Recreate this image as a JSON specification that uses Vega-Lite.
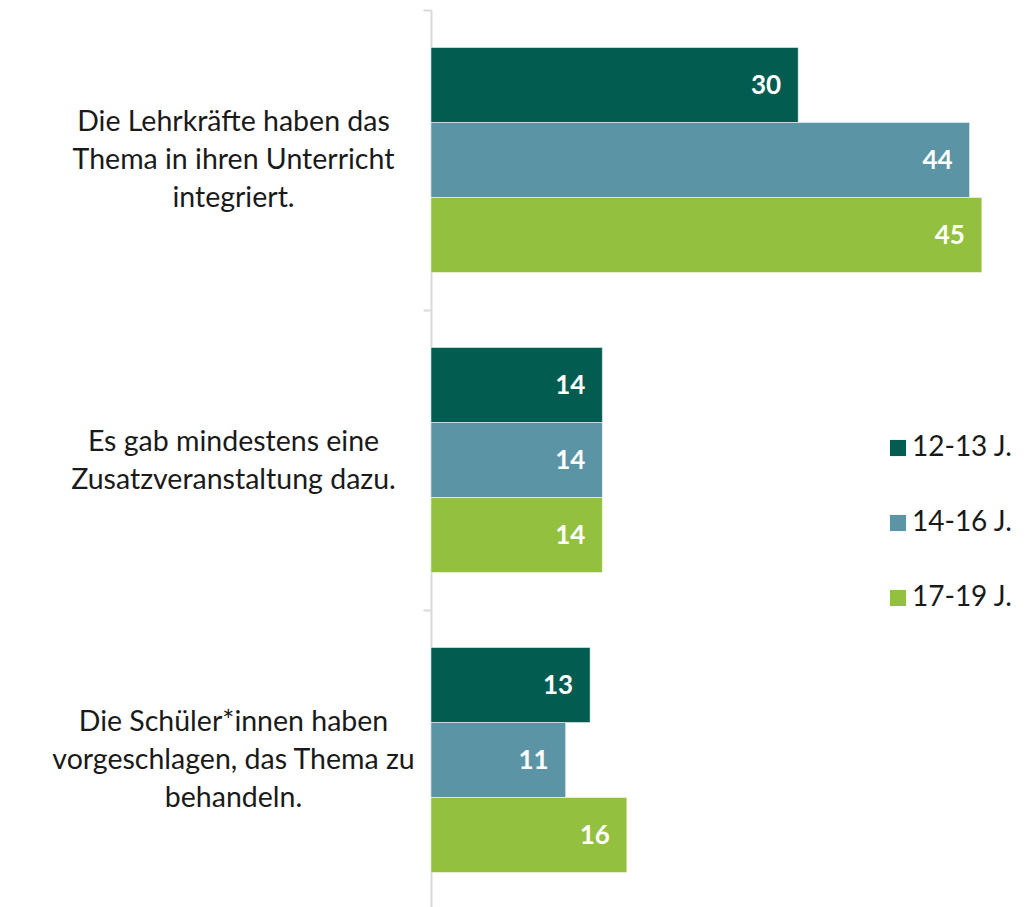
{
  "$schema": "https://vega.github.io/schema/vega-lite/v6.json",
  "width": 612,
  "height": 900,
  "autosize": {"type": "none"},
  "padding": {"left": 431, "top": 10, "right": 0, "bottom": 0},
  "background": "white",
  "config": {"view": {"stroke": null}, "font": "Lato"},
  "data": {
    "values": [
      {"item": "Die Lehrkräfte haben das|Thema in ihren Unterricht|integriert.", "group": "12-13 J.", "value": 30},
      {"item": "Die Lehrkräfte haben das|Thema in ihren Unterricht|integriert.", "group": "14-16 J.", "value": 44},
      {"item": "Die Lehrkräfte haben das|Thema in ihren Unterricht|integriert.", "group": "17-19 J.", "value": 45},
      {"item": "Es gab mindestens eine|Zusatzveranstaltung dazu.", "group": "12-13 J.", "value": 14},
      {"item": "Es gab mindestens eine|Zusatzveranstaltung dazu.", "group": "14-16 J.", "value": 14},
      {"item": "Es gab mindestens eine|Zusatzveranstaltung dazu.", "group": "17-19 J.", "value": 14},
      {"item": "Die Schüler*innen haben|vorgeschlagen, das Thema zu|behandeln.", "group": "12-13 J.", "value": 13},
      {"item": "Die Schüler*innen haben|vorgeschlagen, das Thema zu|behandeln.", "group": "14-16 J.", "value": 11},
      {"item": "Die Schüler*innen haben|vorgeschlagen, das Thema zu|behandeln.", "group": "17-19 J.", "value": 16}
    ]
  },
  "encoding": {
    "y": {
      "field": "item",
      "type": "nominal",
      "sort": null,
      "scale": {"paddingInner": 0.25, "paddingOuter": 0.125},
      "axis": {
        "title": null,
        "domainColor": "#d9d9d9",
        "domainWidth": 2,
        "tickColor": "#d9d9d9",
        "tickWidth": 2,
        "tickSize": 8,
        "tickOffset": -150,
        "labelOffset": {"condition": {"test": "indexof(datum.value, 'Zusatz') >= 0", "value": 131}, "value": 111},
        "labelExpr": "split(datum.value, '|')",
        "labelAlign": "center",
        "labelBaseline": "middle",
        "labelPadding": 190,
        "labelFontSize": 28.5,
        "labelLineHeight": 38,
        "labelColor": "#1a1a1a",
        "labelLimit": 0
      }
    },
    "yOffset": {
      "field": "group",
      "type": "nominal",
      "sort": ["12-13 J.", "14-16 J.", "17-19 J."],
      "scale": {"paddingInner": 0, "paddingOuter": 0}
    },
    "x": {
      "field": "value",
      "type": "quantitative",
      "scale": {"domain": [0, 50], "nice": false},
      "axis": null
    }
  },
  "layer": [
    {
      "mark": {"type": "bar", "stroke": "#ffffff", "strokeWidth": 0.5},
      "encoding": {
        "color": {
          "field": "group",
          "type": "nominal",
          "sort": ["12-13 J.", "14-16 J.", "17-19 J."],
          "scale": {"domain": ["12-13 J.", "14-16 J.", "17-19 J."], "range": ["#025c4f", "#5b94a4", "#93c13f"]},
          "legend": {
            "title": null,
            "orient": "none",
            "legendX": 453,
            "legendY": 424,
            "padding": 0,
            "symbolType": "square",
            "symbolSize": 260,
            "symbolStrokeWidth": 0,
            "symbolOpacity": 1,
            "labelFontSize": 28,
            "labelColor": "#1a1a1a",
            "labelOffset": 0,
            "rowPadding": 47,
            "labelLimit": 0
          }
        }
      }
    },
    {
      "mark": {"type": "text", "align": "right", "baseline": "middle", "dx": -17, "dy": 1, "color": "white", "fontWeight": "bold", "fontSize": 26},
      "encoding": {"text": {"field": "value", "type": "quantitative"}}
    }
  ]
}
